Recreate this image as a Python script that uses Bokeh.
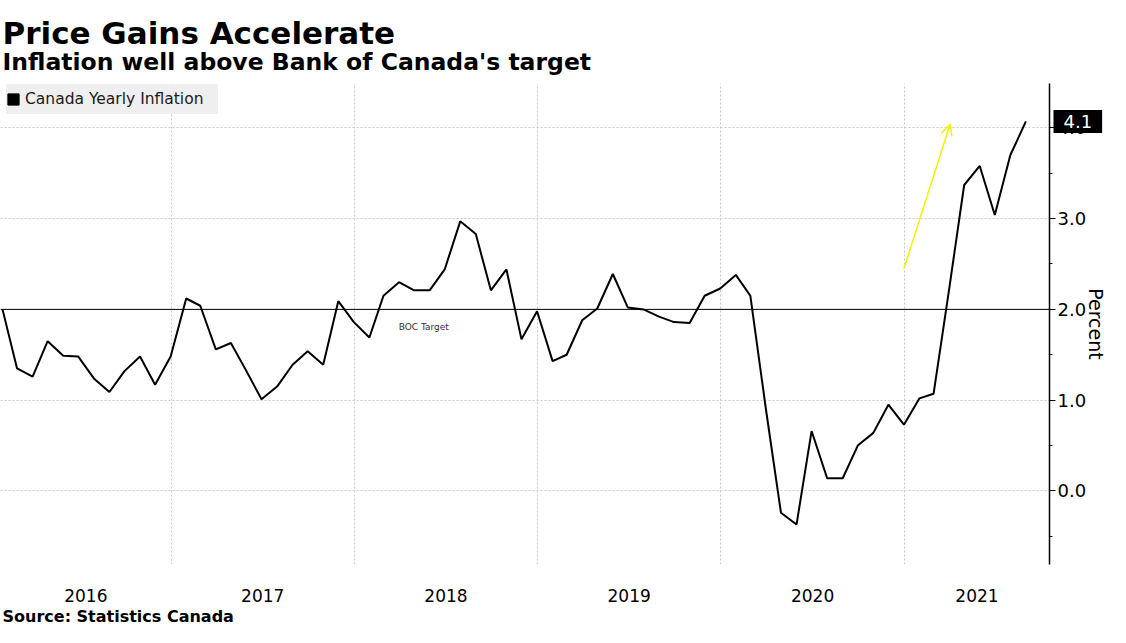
import pandas as pd
from bokeh.plotting import figure
from bokeh.models import (ColumnDataSource, Range1d, FixedTicker, SingleIntervalTicker,
                          NumeralTickFormatter, Span, Label, Arrow, OpenHead)
from bokeh.embed import file_html
from bokeh.resources import INLINE

# ---------------- data ----------------
TITLE = "Price Gains Accelerate"
SUBTITLE = "Inflation well above Bank of Canada's target"
SOURCE = "Source: Statistics Canada"
SERIES_NAME = "Canada Yearly Inflation"
Y_LABEL = "Percent"
TARGET = 2.0
TARGET_LABEL = "BOC Target"

first_month = "2016-01"
inflation_2016 = [2.00, 1.35, 1.26, 1.65, 1.49, 1.48, 1.24, 1.09, 1.32, 1.48, 1.17, 1.48]
inflation_2017 = [2.12, 2.04, 1.56, 1.63, 1.32, 1.01, 1.15, 1.39, 1.54, 1.39, 2.09, 1.86]
inflation_2018 = [1.69, 2.15, 2.30, 2.21, 2.21, 2.44, 2.97, 2.83, 2.21, 2.44, 1.67, 1.98]
inflation_2019 = [1.43, 1.50, 1.88, 2.01, 2.39, 2.02, 2.00, 1.92, 1.86, 1.85, 2.15, 2.23]
inflation_2020 = [2.38, 2.15, 0.90, -0.24, -0.37, 0.66, 0.14, 0.14, 0.50, 0.64, 0.95, 0.73]
inflation_2021 = [1.02, 1.07, 2.22, 3.37, 3.58, 3.04, 3.70, 4.07]

years = [2016, 2017, 2018, 2019, 2020, 2021]
year_labels = ["2016", "2017", "2018", "2019", "2020", "2021"]

x_start = "2016-01-27"
x_end = "2021-10-17"
y_start = -0.81
y_end = 4.488

# yellow trend arrow (start / end in data space)
arrow_from = ("2020-12-31", 2.45)
arrow_to = ("2021-04-02", 4.04)

# ---------------- build ----------------
values = (inflation_2016 + inflation_2017 + inflation_2018 +
          inflation_2019 + inflation_2020 + inflation_2021)
months = pd.period_range(first_month, periods=len(values), freq="M")
dates = months.to_timestamp(how="start") + pd.offsets.MonthEnd(0)
source = ColumnDataSource(dict(date=dates, value=values))


def ms(d):
    return float(pd.Timestamp(d).value // 10**6)


xs, xe = ms(x_start), ms(x_end)

W, H = 1110, 627
FONT = "DejaVu Sans"
FRAME_RIGHT_PX = 1051.0   # layout helpers (reference pixel -> data position)
ZERO_PX, UNIT_PX = 491.2, 91.17


def x_px(px):
    return xs + px * (xe - xs) / FRAME_RIGHT_PX


def y_px(py):
    return (ZERO_PX - py) / UNIT_PX


p = figure(width=W, height=H, output_backend="svg", toolbar_location=None,
           x_axis_type="datetime", y_axis_location="right",
           x_range=Range1d(xs, xe), y_range=Range1d(y_start, y_end),
           min_border_left=0, min_border_right=59, min_border_top=82,
           min_border_bottom=62)
p.title_location = None
p.outline_line_color = None
p.background_fill_color = "white"
p.border_fill_color = "white"

# grids
p.xgrid.ticker = FixedTicker(ticks=[ms(f"{y}-01-01") for y in years[1:]])
for g in (p.xgrid, p.ygrid):
    g.grid_line_color = "#c8c8c8"
    g.grid_line_dash = "2 2"
    g.grid_line_width = 1

# x axis: year labels centred in the visible part of each year
mids, overrides = [], {}
for y, lab in zip(years, year_labels):
    a = max(ms(f"{y}-01-01"), xs)
    b = min(ms(f"{y + 1}-01-01"), xe)
    m = float(round((a + b) / 2))
    mids.append(m)
    overrides[m] = lab
xa = p.xaxis[0]
xa.ticker = FixedTicker(ticks=mids)
xa.major_label_overrides = overrides
xa.axis_line_color = None
xa.major_tick_line_color = None
xa.minor_tick_line_color = None
xa.major_tick_out = 0
xa.major_tick_in = 0
xa.minor_tick_out = 0
xa.minor_tick_in = 0
xa.major_label_standoff = 24
xa.major_label_text_font = FONT
xa.major_label_text_font_size = "17px"
xa.major_label_text_color = "black"

# y axis (right)
ya = p.yaxis[0]
ya.ticker = SingleIntervalTicker(interval=1, num_minor_ticks=2)
ya.formatter = NumeralTickFormatter(format="0.0")
ya.axis_line_color = "black"
ya.axis_line_width = 1.5
ya.major_tick_line_color = "black"
ya.minor_tick_line_color = "black"
ya.major_tick_out = 6
ya.major_tick_in = 0
ya.minor_tick_out = 3
ya.minor_tick_in = 0
ya.major_label_standoff = 2
ya.major_label_text_font = FONT
ya.major_label_text_font_size = "18px"
ya.major_label_text_color = "black"
ya.axis_label = Y_LABEL
ya.axis_label_text_font = FONT
ya.axis_label_text_font_size = "19px"
ya.axis_label_text_font_style = "normal"
ya.axis_label_text_color = "black"
ya.axis_label_standoff = -4

# target line
p.add_layout(Span(location=TARGET, dimension="width", line_color="black", line_width=1))
p.add_layout(Label(x=x_px(399), y=y_px(327), text=TARGET_LABEL,
                   text_font=FONT, text_font_size="9px", text_color="#333333",
                   text_baseline="middle", text_align="left"))

# legend swatch (square) - a glyph without drawable coordinates
nan = float("nan")
p.quad(left=[nan], right=[nan], top=[nan], bottom=[nan], color="black",
       legend_label=SERIES_NAME)

# series
p.line(x="date", y="value", source=source, line_color="black", line_width=2)

lg = p.legend[0]
lg.location = (6, 450)
lg.margin = 0
lg.padding = 0
lg.glyph_width = 14
lg.glyph_height = 14
lg.label_standoff = 5
lg.label_text_font = FONT
lg.label_text_font_size = "15.5px"
lg.label_text_color = "#1a1a1a"
lg.label_height = 30
lg.label_width = 193
lg.background_fill_color = "#efefef"
lg.background_fill_alpha = 1
lg.border_line_color = None

# yellow arrow
p.add_layout(Arrow(end=OpenHead(line_color="#f2f200", line_width=1.5, size=11),
                   x_start=ms(arrow_from[0]), y_start=arrow_from[1],
                   x_end=ms(arrow_to[0]), y_end=arrow_to[1],
                   line_color="#f2f200", line_width=1.5))

# --- texts outside the frame live in side panels (not clipped) ---
last = values[-1]
p.add_layout(Label(x=x_px(2), y=y_px(31), text=TITLE, text_font=FONT,
                   text_font_size="31px", text_font_style="bold", text_color="black",
                   text_baseline="middle", text_align="left"), "above")
p.add_layout(Label(x=x_px(2), y=y_px(60), text=SUBTITLE, text_font=FONT,
                   text_font_size="23.5px", text_font_style="bold", text_color="black",
                   text_baseline="middle", text_align="left"), "above")
p.add_layout(Label(x=x_px(2), y=y_px(617), text=SOURCE, text_font=FONT,
                   text_font_size="16px", text_font_style="bold", text_color="black",
                   text_baseline="middle", text_align="left"), "above")
p.add_layout(Label(x=xe, y=last, x_offset=4, text=f"{last:.1f}", text_color="white",
                   background_fill_color="black", padding=(10, 5),
                   text_font=FONT, text_font_size="18px", text_baseline="middle",
                   text_align="left"), "below")

open("out.html", "w").write(file_html(p, INLINE))
